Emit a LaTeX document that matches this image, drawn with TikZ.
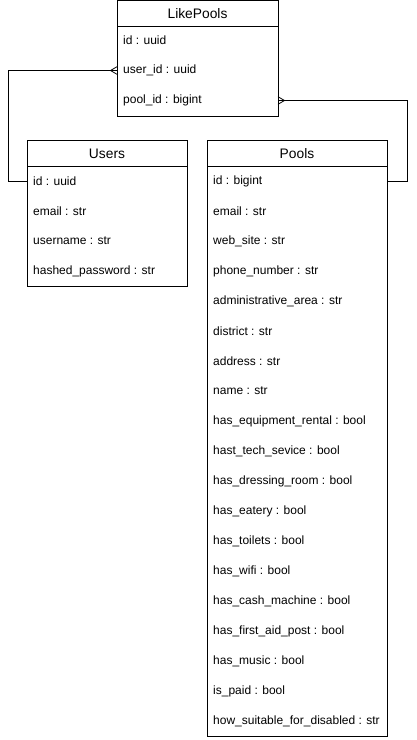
\documentclass[tikz,border=0pt]{standalone}
\usepackage{fontspec}
\setmainfont{Liberation Sans}
\begin{document}
\begin{tikzpicture}[x=1pt,y=-1pt,
  tbox/.style={draw,line width=1pt,anchor=north west,inner sep=0pt,outer sep=0pt},
  hdr/.style={font=\fontsize{13.8}{16}\selectfont,inner sep=0pt},
  row/.style={font=\fontsize{12}{14}\selectfont,anchor=west,inner sep=0pt},
  sep/.style={line width=1pt},
  conn/.style={line width=1pt},
  crow/.style={line width=0.8pt}
]
\useasboundingbox (0,0) rectangle (416,740);

% LikePools
\node[tbox,minimum width=161pt,minimum height=115.5pt] (lp) at (117,0.5) {};
\node[hdr] (lph) at (197.5,13.5) {LikePools};
\draw[sep] (lp.west |- 0,26) -- (lp.east |- 0,26);
\node[row] (lp1) at (123,40.5) {id : uuid};
\node[row] (lp2) at (123,70.5) {user\_id : uuid};
\node[row] (lp3) at (123,100.5) {pool\_id : bigint};

% Users
\node[tbox,minimum width=160pt,minimum height=146pt] (us) at (27,140) {};
\node[hdr] (ush) at (107,153.5) {Users};
\draw[sep] (us.west |- 0,166) -- (us.east |- 0,166);
\node[row] (us1) at (33,181) {id : uuid};
\node[row] (us2) at (33,211) {email : str};
\node[row] (us3) at (33,241) {username : str};
\node[row] (us4) at (33,271) {hashed\_password : str};

% Pools
\node[tbox,minimum width=180pt,minimum height=596pt] (po) at (207,140) {};
\node[hdr] (poh) at (297,153.5) {Pools};
\draw[sep] (po.west |- 0,166) -- (po.east |- 0,166);
\foreach \t [count=\i from 0] in {
  id : bigint,
  email : str,
  web\_site : str,
  phone\_number : str,
  administrative\_area : str,
  district : str,
  address : str,
  name : str,
  has\_equipment\_rental : bool,
  hast\_tech\_sevice : bool,
  has\_dressing\_room : bool,
  has\_eatery : bool,
  has\_toilets : bool,
  has\_wifi : bool,
  has\_cash\_machine : bool,
  has\_first\_aid\_post : bool,
  has\_music : bool,
  is\_paid : bool,
  how\_suitable\_for\_disabled : str}
  \node[row] (po\i) at (213,181+30*\i) {\t};

% connector LikePools.user_id -> Users.id
\coordinate (cl) at (8,125);
\draw[conn] (lp.west |- lp2) -- (cl |- lp2) -- (cl |- us1) -- (us.west |- us1);
\draw[crow] (lp.west |- lp2) ++(-6.5,0) -- ++(6.5,-3.8);
\draw[crow] (lp.west |- lp2) ++(-6.5,0) -- ++(6.5,3.8);

% connector LikePools.pool_id -> Pools.id
\coordinate (cr) at (407,125);
\draw[conn] (lp.east |- lp3) -- (cr |- lp3) -- (cr |- po0) -- (po.east |- po0);
\draw[crow] (lp.east |- lp3) ++(6.5,0) -- ++(-6.5,-3.8);
\draw[crow] (lp.east |- lp3) ++(6.5,0) -- ++(-6.5,3.8);
\end{tikzpicture}
\end{document}
